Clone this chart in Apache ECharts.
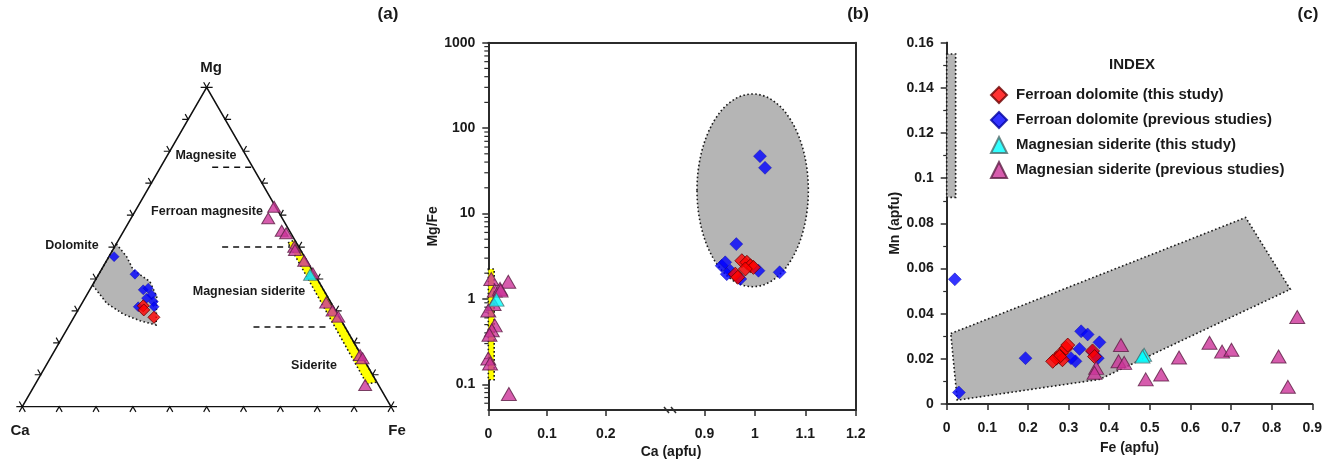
<!DOCTYPE html>
<html>
<head>
<meta charset="utf-8">
<script src="https://cdn.jsdelivr.net/npm/echarts@6.0.0/dist/echarts.min.js"></script>
<style>
  html, body { margin: 0; padding: 0; background: #fff; }
  #chart { width: 1325px; height: 460px; }
</style>
</head>
<body>
<div id="chart"></div>
<script>
const FONT = '"Liberation Sans", Arial, Helvetica, sans-serif';
const SQ = Math.sqrt(3) / 2;

const NAME_FD_THIS = "Ferroan dolomite (this study)";
const NAME_FD_PREV = "Ferroan dolomite (previous studies)";
const NAME_MS_THIS = "Magnesian siderite (this study)";
const NAME_MS_PREV = "Magnesian siderite (previous studies)";

// ---- (a) ternary, fractions [Ca, Mg, Fe]
const TERN_FD_PREV = [[0.516, 0.470, 0.014], [0.487, 0.415, 0.098], [0.489, 0.366, 0.145], [0.473, 0.371, 0.156],
  [0.474, 0.350, 0.176], [0.493, 0.340, 0.167], [0.480, 0.329, 0.191], [0.529, 0.313, 0.158], [0.486, 0.313, 0.201]];
const TERN_FD_THIS = [[0.514, 0.316, 0.170], [0.519, 0.303, 0.178], [0.503, 0.280, 0.217]];
const TERN_MS_PREV = [[0.004, 0.626, 0.370], [0.038, 0.590, 0.372], [0.021, 0.551, 0.428], [0.013, 0.543, 0.444],
  [0.012, 0.501, 0.487], [0.015, 0.491, 0.494], [0.007, 0.457, 0.536], [0.003, 0.418, 0.579], [0.013, 0.326, 0.661],
  [0.008, 0.301, 0.691], [0.002, 0.282, 0.716], [0.003, 0.162, 0.835], [0.001, 0.152, 0.847], [0.036, 0.068, 0.896]];
const TERN_MS_THIS = [[0.013, 0.413, 0.574]];
const TERN_DOL_FIELD = [[0.490, 0.510, 0.000], [0.482, 0.470, 0.048], [0.485, 0.428, 0.087], [0.458, 0.392, 0.150],
  [0.463, 0.345, 0.192], [0.509, 0.256, 0.235], [0.546, 0.269, 0.185], [0.581, 0.290, 0.129], [0.609, 0.324, 0.067],
  [0.619, 0.381, 0.000]];
const TERN_SID_BAND = [[0.023, 0.513, 0.464], [0.000, 0.522, 0.478], [0.000, 0.077, 0.923], [0.030, 0.071, 0.899]];
// Mg level of the dashed field limits, with start / end along the Ca-Fe direction
const TERN_DIVIDERS = [[0.75, 0.515, 0.623], [0.50, 0.542, 0.726], [0.25, 0.627, 0.830]];
const TERN_TICKS = [0, 0.1, 0.2, 0.3, 0.4, 0.5, 0.6, 0.7, 0.8, 0.9, 1];

// ---- (b) [Ca apfu, Mg/Fe]
const B_FD_PREV = [[1.010, 46.9], [1.020, 34.3], [0.963, 4.38], [0.934, 2.44], [0.941, 2.68], [0.951, 2.14],
  [0.944, 1.95], [0.971, 1.71], [1.007, 2.14], [1.049, 2.05]];
const B_FD_THIS = [[0.974, 2.8], [0.984, 2.68], [0.991, 2.44], [0.997, 2.34], [0.961, 1.95], [0.966, 1.79], [0.981, 2.24]];
const B_MS_PREV = [[0.005, 1.71], [0.034, 1.59], [0.011, 1.25], [0.020, 1.31], [0.021, 1.25], [0.009, 0.87],
  [0.000, 0.73], [0.011, 0.49], [0.006, 0.43], [0.002, 0.38], [0.000, 0.20], [0.003, 0.175], [0.035, 0.077]];
const B_MS_THIS = [[0.014, 0.98]];
const B_SID_STRIP = [[0, 2.24], [0.010, 2.24], [0.010, 0.113], [0, 0.113]];
const B_DOL_ELLIPSE = [0.885, 1.39, 1.106, 251]; // Ca min, Mg/Fe min, Ca max, Mg/Fe max
const B_MINOR = [0.06, 0.07, 0.08, 0.09, 0.2, 0.3, 0.4, 0.5, 0.6, 0.7, 0.8, 0.9, 2, 3, 4, 5, 6, 7, 8, 9,
  20, 30, 40, 50, 60, 70, 80, 90, 200, 300, 400, 500, 600, 700, 800, 900];
const B_LEFT_TICKS = [0, 0.1, 0.2];
const B_RIGHT_TICKS = [0.9, 1, 1.1, 1.2];

// ---- (c) [Fe apfu, Mn apfu]
const C_FD_PREV = [[0.020, 0.0552], [0.030, 0.0051], [0.194, 0.0203], [0.331, 0.0322], [0.347, 0.0308], [0.376, 0.0273],
  [0.327, 0.0244], [0.317, 0.0189], [0.306, 0.0203], [0.372, 0.0203], [0.359, 0.0232]];
const C_FD_THIS = [[0.270, 0.0203], [0.282, 0.0225], [0.294, 0.0247], [0.298, 0.0261], [0.285, 0.0196], [0.278, 0.0210],
  [0.261, 0.0189], [0.359, 0.0235], [0.364, 0.0210]];
const C_MS_PREV = [[0.368, 0.0160], [0.364, 0.0138], [0.429, 0.0261], [0.423, 0.0189], [0.437, 0.0182], [0.490, 0.0109],
  [0.528, 0.0131], [0.572, 0.0206], [0.647, 0.0271], [0.678, 0.0232], [0.701, 0.0240], [0.817, 0.0210], [0.840, 0.0076],
  [0.863, 0.0385]];
const C_MS_THIS = [[0.486, 0.0218], [0.482, 0.0210]];
const C_DOL_FIELD = [[0.010, 0.0312], [0.736, 0.0826], [0.846, 0.0508], [0.376, 0.0109], [0.026, 0.0017]];
const C_MAG_STRIP = [[0, 0.1550], [0.022, 0.1550], [0.022, 0.0915], [0, 0.0915]];

// ---------------------------------------------------------------------------
const tern = ([ca, mg, fe]) => {
  const s = ca + mg + fe;
  return [(fe + mg / 2) / s, (mg / s) * SQ];
};

const EDGES = [
  { a: [0, 0], b: [1, 0], legs: [[-0.5, 0.866], [0.5, 0.866]] },
  { a: [0, 0], b: [0.5, SQ], legs: [[-1, 0], [-0.5, -0.866]] },
  { a: [1, 0], b: [0.5, SQ], legs: [[1, 0], [0.5, -0.866]] }
];

const STYLE = {
  fdThis: { color: "#ff0000", borderColor: "#6b0000", borderWidth: 1 },
  fdPrev: { color: "#0000ff", borderColor: "#0000a0", borderWidth: 0.5 },
  msThis: { color: "#00ffff", borderColor: "#4d6b6b", borderWidth: 1 },
  msPrev: { color: "#cc3399", borderColor: "#5c1f45", borderWidth: 1 }
};
const GRAY = { fill: "#b5b5b5", stroke: "#1a1a1a", lineWidth: 1.6, lineDash: [1.6, 2.4] };
const YELLOW = { fill: "#ffff00", stroke: "#1a1a1a", lineWidth: 1.6, lineDash: [1.6, 2.4] };

function regionSeries(xi, yi, pts, style) {
  return {
    type: "custom", xAxisIndex: xi, yAxisIndex: yi, z: 1, silent: true, clip: false,
    data: [pts[0]],
    renderItem: (params, api) => ({
      type: "polygon",
      shape: { points: pts.map((p) => api.coord(p)) },
      style: style
    })
  };
}

function scatter(name, xi, yi, data, kind, size) {
  const diamond = kind === "fdThis" || kind === "fdPrev";
  return {
    name, type: "scatter", xAxisIndex: xi, yAxisIndex: yi, z: 3, clip: false,
    symbol: diamond ? "diamond" : "triangle",
    symbolSize: size,
    itemStyle: STYLE[kind],
    data
  };
}

const tickLabel = { color: "#1a1a1a", fontSize: 14, fontWeight: "bold", fontFamily: FONT };
const axisLine = { show: true, lineStyle: { color: "#2b2b2b", width: 2 } };
const axisTick = { show: true, length: 6, lineStyle: { color: "#2b2b2b", width: 1.5 } };
const nameStyle = { color: "#1a1a1a", fontSize: 14, fontWeight: "bold", fontFamily: FONT };

function borderAxis(gridIndex, position, extra) {
  return Object.assign({
    gridIndex, position, type: "value",
    axisLine, axisTick: { show: false }, axisLabel: { show: false }, splitLine: { show: false }
  }, extra);
}

function text(str, x, y, size, align) {
  return {
    type: "text", x, y, silent: true,
    style: { text: str, font: `bold ${size}px ${FONT}`, fill: "#1a1a1a", align: align || "center", verticalAlign: "middle" }
  };
}

const logFmt = (v) => String(parseFloat(Number(v).toPrecision(4)));

const chart = echarts.init(document.getElementById("chart"), null, { renderer: "canvas" });

chart.setOption({
  animation: false,
  backgroundColor: "#fff",
  grid: [
    { left: 22.3, top: 87.4, width: 368.7, height: 319.3 },
    { left: 488.3, top: 42.7, width: 181, height: 367.3 },
    { left: 669.3, top: 42.7, width: 186.4, height: 367.3 },
    { left: 946.7, top: 42.7, width: 367.3, height: 367.3 }
  ],
  xAxis: [
    { gridIndex: 0, type: "value", min: 0, max: 1, show: false },
    {
      gridIndex: 1, type: "value", min: 0, max: 0.308, position: "bottom",
      axisLine, splitLine: { show: false },
      axisTick: Object.assign({ customValues: B_LEFT_TICKS }, axisTick),
      axisLabel: Object.assign({ customValues: B_LEFT_TICKS, margin: 17 }, tickLabel)
    },
    borderAxis(1, "top", { min: 0, max: 0.308 }),
    {
      gridIndex: 2, type: "value", min: 0.83, max: 1.2, position: "bottom",
      axisLine, splitLine: { show: false },
      axisTick: Object.assign({ customValues: B_RIGHT_TICKS }, axisTick),
      axisLabel: Object.assign({ customValues: B_RIGHT_TICKS, margin: 17 }, tickLabel)
    },
    borderAxis(2, "top", { min: 0.83, max: 1.2 }),
    {
      gridIndex: 3, type: "value", min: 0, max: 0.9, interval: 0.1, position: "bottom",
      axisLine, axisTick, splitLine: { show: false },
      axisLabel: Object.assign({ margin: 17 }, tickLabel),
      name: "Fe (apfu)", nameLocation: "middle", nameGap: 37, nameTextStyle: nameStyle
    },
    borderAxis(3, "top", { min: 0, max: 0.9 })
  ],
  yAxis: [
    { gridIndex: 0, type: "value", min: 0, max: SQ, show: false },
    {
      gridIndex: 1, type: "log", logBase: 10, min: 0.05, max: 1000, position: "left",
      axisLine, axisTick, splitLine: { show: false }, minorTick: { show: false },
      axisLabel: Object.assign({ margin: 13, showMinLabel: false, formatter: logFmt }, tickLabel),
      name: "Mg/Fe", nameLocation: "middle", nameGap: 40, nameTextStyle: nameStyle
    },
    borderAxis(2, "right", { type: "log", logBase: 10, min: 0.05, max: 1000 }),
    {
      gridIndex: 3, type: "value", min: 0, max: 0.16, interval: 0.02, position: "left",
      axisLine, axisTick, splitLine: { show: false },
      minorTick: { show: true, splitNumber: 2, length: 3.5, lineStyle: { color: "#2b2b2b", width: 1.2 } },
      axisLabel: Object.assign({ margin: 13 }, tickLabel),
      name: "Mn (apfu)", nameLocation: "middle", nameGap: 39, nameTextStyle: nameStyle
    },
    borderAxis(3, "right", { min: 0, max: 0.16 })
  ],
  legend: {
    data: [NAME_FD_THIS, NAME_FD_PREV, NAME_MS_THIS, NAME_MS_PREV],
    orient: "vertical", left: 985, top: 81, itemWidth: 16, itemHeight: 16, itemGap: 7,
    selectedMode: false,
    textStyle: { fontFamily: FONT, fontSize: 15, fontWeight: "bold", color: "#1a1a1a", padding: [0, 0, 0, 4] }
  },
  graphic: [
    text("(a)", 388, 14, 17), text("(b)", 858, 14, 17), text("(c)", 1308, 14, 17),
    text("Mg", 211, 68, 15), text("Ca", 20, 431, 15), text("Fe", 397, 431, 15),
    text("Magnesite", 206, 156, 12.5), text("Ferroan magnesite", 207, 212, 12.5),
    text("Dolomite", 72, 246, 12.5), text("Magnesian siderite", 249, 292, 12.5),
    text("Siderite", 314, 366, 12.5),
    text("Ca (apfu)", 671, 452, 14),
    text("INDEX", 1132, 65, 15),
    {
      type: "group", x: 670, y: 410, silent: true, z: 100,
      children: [
        { type: "rect", shape: { x: -2.5, y: -1.5, width: 5, height: 3 }, style: { fill: "#fff" } },
        { type: "line", shape: { x1: -6, y1: -3, x2: -1, y2: 3 }, style: { stroke: "#2b2b2b", lineWidth: 1.5 } },
        { type: "line", shape: { x1: 1, y1: -3, x2: 6, y2: 3 }, style: { stroke: "#2b2b2b", lineWidth: 1.5 } }
      ]
    }
  ],
  series: [
    // ---- (a)
    regionSeries(0, 0, TERN_DOL_FIELD.map(tern), GRAY),
    regionSeries(0, 0, TERN_SID_BAND.map(tern), YELLOW),
    {
      type: "line", xAxisIndex: 0, yAxisIndex: 0, z: 2, silent: true, symbol: "none",
      lineStyle: { color: "#111", width: 1.6 },
      data: [[0, 0], [1, 0], [0.5, SQ], [0, 0]]
    },
    ...TERN_DIVIDERS.map(([mg, x0, x1]) => ({
      type: "line", xAxisIndex: 0, yAxisIndex: 0, z: 2, silent: true, symbol: "none",
      lineStyle: { color: "#111", width: 1.5, type: [6, 5] },
      data: [[x0, mg * SQ], [x1, mg * SQ]]
    })),
    {
      type: "custom", xAxisIndex: 0, yAxisIndex: 0, z: 2, silent: true, clip: false,
      data: EDGES.flatMap((e, k) => TERN_TICKS.map((t) => [e.a[0] + t * (e.b[0] - e.a[0]), e.a[1] + t * (e.b[1] - e.a[1]), k])),
      renderItem: (params, api) => {
        const p = api.coord([api.value(0), api.value(1)]);
        const legs = EDGES[api.value(2)].legs;
        const L = 6;
        return {
          type: "polyline",
          shape: { points: [[p[0] + legs[0][0] * L, p[1] + legs[0][1] * L], p, [p[0] + legs[1][0] * L, p[1] + legs[1][1] * L]] },
          style: { stroke: "#111", lineWidth: 1.2, fill: null }
        };
      }
    },
    scatter(NAME_FD_PREV, 0, 0, TERN_FD_PREV.map(tern), "fdPrev", 10),
    scatter(NAME_FD_THIS, 0, 0, TERN_FD_THIS.map(tern), "fdThis", 12),
    scatter(NAME_MS_PREV, 0, 0, TERN_MS_PREV.map(tern), "msPrev", [13, 11]),
    scatter(NAME_MS_THIS, 0, 0, TERN_MS_THIS.map(tern), "msThis", [13, 11]),

    // ---- (b)
    regionSeries(1, 1, B_SID_STRIP, YELLOW),
    {
      type: "custom", xAxisIndex: 3, yAxisIndex: 2, z: 1, silent: true, clip: false,
      data: [B_DOL_ELLIPSE],
      encode: { x: [0, 2], y: [1, 3] },
      renderItem: (params, api) => {
        const p1 = api.coord([api.value(0), api.value(3)]);
        const p2 = api.coord([api.value(2), api.value(1)]);
        return {
          type: "ellipse",
          shape: { cx: (p1[0] + p2[0]) / 2, cy: (p1[1] + p2[1]) / 2, rx: Math.abs(p2[0] - p1[0]) / 2, ry: Math.abs(p2[1] - p1[1]) / 2 },
          style: GRAY
        };
      }
    },
    {
      type: "custom", xAxisIndex: 1, yAxisIndex: 1, z: 2, silent: true, clip: false,
      data: B_MINOR.map((v) => [0, v]),
      renderItem: (params, api) => {
        const p = api.coord([0, api.value(1)]);
        return { type: "line", shape: { x1: p[0] - 4, y1: p[1], x2: p[0], y2: p[1] }, style: { stroke: "#2b2b2b", lineWidth: 1.2 } };
      }
    },
    scatter(NAME_FD_PREV, 3, 2, B_FD_PREV, "fdPrev", 13),
    scatter(NAME_FD_THIS, 3, 2, B_FD_THIS, "fdThis", 14),
    scatter(NAME_MS_PREV, 1, 1, B_MS_PREV, "msPrev", [15, 13]),
    scatter(NAME_MS_THIS, 1, 1, B_MS_THIS, "msThis", [15, 13]),

    // ---- (c)
    regionSeries(5, 3, C_DOL_FIELD, GRAY),
    regionSeries(5, 3, C_MAG_STRIP, GRAY),
    scatter(NAME_FD_PREV, 5, 3, C_FD_PREV, "fdPrev", 13),
    scatter(NAME_FD_THIS, 5, 3, C_FD_THIS, "fdThis", 14),
    scatter(NAME_MS_PREV, 5, 3, C_MS_PREV, "msPrev", [15, 13]),
    scatter(NAME_MS_THIS, 5, 3, C_MS_THIS, "msThis", [15, 13])
  ]
});

window.addEventListener("resize", () => chart.resize());
</script>
</body>
</html>
